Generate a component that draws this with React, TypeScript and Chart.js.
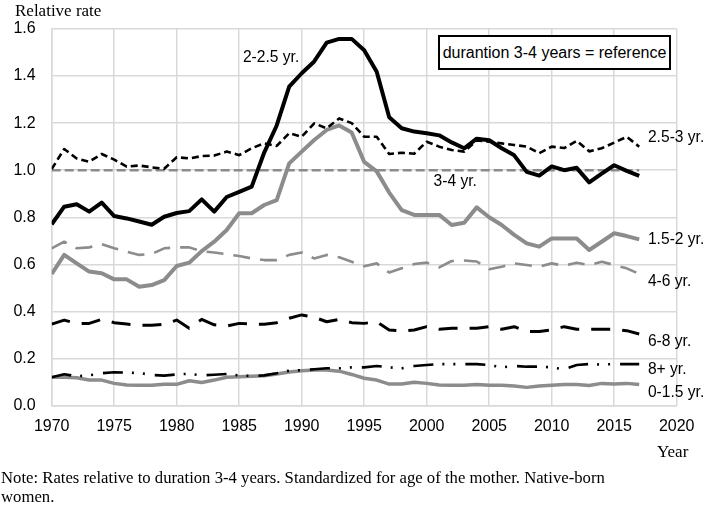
import React, { useEffect, useRef } from "react";
import { Chart, registerables } from "chart.js";

Chart.register(...registerables);

const years = [
  1970, 1971, 1972, 1973, 1974, 1975, 1976, 1977, 1978, 1979,
  1980, 1981, 1982, 1983, 1984, 1985, 1986, 1987, 1988, 1989,
  1990, 1991, 1992, 1993, 1994, 1995, 1996, 1997, 1998, 1999,
  2000, 2001, 2002, 2003, 2004, 2005, 2006, 2007, 2008, 2009,
  2010, 2011, 2012, 2013, 2014, 2015, 2016, 2017,
];

const dur2to25 = [
  0.77, 0.845, 0.855, 0.824, 0.862, 0.805, 0.795, 0.782, 0.768, 0.802,
  0.818, 0.826, 0.876, 0.824, 0.886, 0.908, 0.93, 1.075, 1.19, 1.355,
  1.412, 1.462, 1.542, 1.558, 1.558, 1.51, 1.418, 1.225, 1.178, 1.164,
  1.157, 1.148, 1.118, 1.093, 1.134, 1.127, 1.093, 1.063, 0.993, 0.977,
  1.016, 1.0, 1.01, 0.948, 0.985, 1.021, 0.997, 0.976,
];

const dur25to3 = [
  1.005, 1.09, 1.05, 1.036, 1.069, 1.045, 1.015, 1.02, 1.012, 1.006,
  1.055, 1.05, 1.06, 1.062, 1.079, 1.064, 1.093, 1.114, 1.103, 1.157,
  1.142, 1.199, 1.178, 1.22, 1.2, 1.142, 1.142, 1.069, 1.074, 1.07,
  1.121, 1.1, 1.086, 1.079, 1.126, 1.121, 1.114, 1.107, 1.1, 1.072,
  1.1, 1.094, 1.125, 1.08, 1.093, 1.117, 1.142, 1.1,
];

const dur3to4 = [
  1, 1, 1, 1, 1, 1, 1, 1, 1, 1,
  1, 1, 1, 1, 1, 1, 1, 1, 1, 1,
  1, 1, 1, 1, 1, 1, 1, 1, 1, 1,
  1, 1, 1, 1, 1, 1, 1, 1, 1, 1,
  1, 1, 1, 1, 1, 1, 1, 1,
];

const dur15to2 = [
  0.559, 0.64, 0.604, 0.569, 0.562, 0.536, 0.536, 0.505, 0.512, 0.533,
  0.593, 0.607, 0.656, 0.696, 0.746, 0.817, 0.817, 0.852, 0.873, 1.029,
  1.079, 1.128, 1.171, 1.19, 1.16, 1.035, 0.995, 0.905, 0.83, 0.81,
  0.81, 0.81, 0.767, 0.777, 0.842, 0.8, 0.767, 0.725, 0.689, 0.675,
  0.71, 0.71, 0.71, 0.661, 0.696, 0.732, 0.72, 0.706,
];

const dur4to6 = [
  0.668, 0.696, 0.668, 0.672, 0.686, 0.668, 0.654, 0.64, 0.644, 0.668,
  0.672, 0.672, 0.656, 0.65, 0.643, 0.635, 0.625, 0.618, 0.618, 0.64,
  0.65, 0.625, 0.64, 0.63, 0.611, 0.592, 0.604, 0.565, 0.583, 0.601,
  0.607, 0.587, 0.614, 0.616, 0.612, 0.579, 0.59, 0.604, 0.597, 0.59,
  0.604, 0.594, 0.607, 0.597, 0.611, 0.597, 0.583, 0.559,
];

const dur6to8 = [
  0.346, 0.363, 0.349, 0.349, 0.366, 0.352, 0.346, 0.341, 0.341, 0.345,
  0.363, 0.328, 0.366, 0.343, 0.338, 0.349, 0.346, 0.345, 0.352, 0.371,
  0.385, 0.375, 0.356, 0.366, 0.352, 0.349, 0.356, 0.321, 0.317, 0.321,
  0.335, 0.324, 0.328, 0.328, 0.328, 0.335, 0.324, 0.335, 0.314, 0.314,
  0.321, 0.335, 0.324, 0.324, 0.324, 0.324, 0.318, 0.304,
];

const dur8plus = [
  0.12, 0.133, 0.124, 0.128, 0.137, 0.141, 0.14, 0.138, 0.13, 0.127,
  0.132, 0.135, 0.128, 0.131, 0.134, 0.128, 0.125, 0.128, 0.137, 0.148,
  0.15, 0.154, 0.158, 0.158, 0.162, 0.162, 0.168, 0.162, 0.158, 0.168,
  0.172, 0.176, 0.176, 0.176, 0.176, 0.172, 0.162, 0.168, 0.165, 0.165,
  0.162, 0.154, 0.172, 0.176, 0.174, 0.176, 0.176, 0.176,
];

const dur0to15 = [
  0.12, 0.12, 0.118, 0.108, 0.108, 0.094, 0.087, 0.086, 0.086, 0.09,
  0.09, 0.105, 0.098, 0.108, 0.12, 0.122, 0.124, 0.126, 0.134, 0.142,
  0.148, 0.151, 0.151, 0.146, 0.132, 0.116, 0.108, 0.091, 0.091, 0.099,
  0.094, 0.087, 0.086, 0.086, 0.089, 0.086, 0.086, 0.083, 0.077, 0.083,
  0.086, 0.089, 0.089, 0.085, 0.094, 0.091, 0.094, 0.089,
];

const xMin = 1970;
const xMax = 2020;
const xStep = 5;
const yMin = 0;
const yMax = 1.6;
const yStep = 0.2;

// series label anchors, in data coordinates (year, value)
const labelTexts = ["2-2.5 yr.", "2.5-3 yr.", "3-4 yr.", "1.5-2 yr.", "4-6 yr.", "6-8 yr.", "8+ yr.", "0-1.5 yr."];
const labelYears = [1985.3, 2017.7, 2000.55, 2017.7, 2017.7, 2017.7, 2017.7, 2017.7];
const labelValues = [1.476, 1.137, 0.951, 0.703, 0.526, 0.271, 0.151, 0.054];

const GRAY = "#8c8c8c";
const GRID = "#d9d9d9";
const SANS = "'Liberation Sans', Arial, sans-serif";
const SERIF = "'Liberation Serif', 'Times New Roman', serif";

const pts = (vals: number[]) => years.map((yr, i) => ({ x: yr, y: vals[i] }));

const labelPlugin = {
  id: "seriesLabels",
  afterDatasetsDraw(chart: any) {
    const { ctx, scales } = chart;
    const xs = scales.x;
    const ys = scales.y;
    ctx.save();
    ctx.font = `15.6px ${SANS}`;
    ctx.fillStyle = "#000";
    ctx.textBaseline = "middle";
    ctx.textAlign = "left";
    labelTexts.forEach((t, i) => {
      ctx.fillText(t, xs.getPixelForValue(labelYears[i]), ys.getPixelForValue(labelValues[i]));
    });
    ctx.restore();
  },
};

export default function App() {
  const ref = useRef<HTMLCanvasElement | null>(null);

  useEffect(() => {
    if (!ref.current) return;
    const common = { pointRadius: 0, pointHoverRadius: 0, tension: 0, fill: false, borderJoinStyle: "round" as const };
    const chart = new Chart(ref.current, {
      type: "line",
      data: {
        datasets: [
          { label: "2-2.5 yr.", data: pts(dur2to25), borderColor: "#000", borderWidth: 4, order: 1, ...common },
          { label: "2.5-3 yr.", data: pts(dur25to3), borderColor: "#000", borderWidth: 2.6, borderDash: [7, 4], order: 2, ...common },
          { label: "8+ yr.", data: pts(dur8plus), borderColor: "#000", borderWidth: 2.6, borderDash: [20, 9, 2, 9, 2, 10], order: 3, ...common },
          { label: "6-8 yr.", data: pts(dur6to8), borderColor: "#000", borderWidth: 3, borderDash: [19, 12], order: 4, ...common },
          { label: "1.5-2 yr.", data: pts(dur15to2), borderColor: GRAY, borderWidth: 4, order: 5, ...common },
          { label: "0-1.5 yr.", data: pts(dur0to15), borderColor: GRAY, borderWidth: 3.5, order: 6, ...common },
          { label: "4-6 yr.", data: pts(dur4to6), borderColor: GRAY, borderWidth: 2.6, borderDash: [17, 10], order: 7, ...common },
          { label: "3-4 yr.", data: pts(dur3to4), borderColor: GRAY, borderWidth: 2.6, borderDash: [9, 4], order: 8, ...common },
        ],
      },
      options: {
        responsive: false,
        animation: false,
        events: [],
        layout: { padding: { top: 29, right: 33.3, bottom: 72.5, left: 0 } },
        plugins: { legend: { display: false }, tooltip: { enabled: false }, title: { display: false } },
        scales: {
          x: {
            type: "linear",
            min: xMin,
            max: xMax,
            ticks: {
              stepSize: xStep,
              padding: 11,
              color: "#000",
              font: { family: SANS, size: 16 },
              maxRotation: 0,
              callback: (v: any) => String(v),
            },
            grid: { color: GRID, lineWidth: 1.5, drawTicks: false },
            border: { color: GRID, width: 1.5 },
            afterFit: (s: any) => { s.height = 30; },
          },
          y: {
            type: "linear",
            min: yMin,
            max: yMax,
            ticks: {
              stepSize: yStep,
              padding: 16,
              color: "#000",
              font: { family: SANS, size: 16 },
              callback: (v: any) => Number(v).toFixed(1),
            },
            grid: { color: GRID, lineWidth: 1.5, drawTicks: false },
            border: { color: GRID, width: 1.5 },
            afterFit: (s: any) => { s.width = 51.7; },
          },
        },
      },
      plugins: [labelPlugin],
    });
    return () => chart.destroy();
  }, []);

  return (
    <div style={{ position: "absolute", left: 0, top: 0, width: 710, height: 508, background: "#fff", overflow: "hidden" }}>
      <canvas ref={ref} width={710} height={508} style={{ position: "absolute", left: 0, top: 0, width: 710, height: 508 }} />
      <div style={{ position: "absolute", left: 15, top: 1, fontFamily: SERIF, fontSize: 17, lineHeight: "20px", color: "#000", whiteSpace: "nowrap" }}>
        Relative rate
      </div>
      <div
        style={{
          position: "absolute",
          left: 438,
          top: 35,
          width: 229,
          height: 31,
          border: "2px solid #000",
          background: "#fff",
          fontFamily: SANS,
          fontSize: 16,
          lineHeight: "31px",
          textAlign: "center",
          color: "#000",
          whiteSpace: "nowrap",
        }}
      >
        durantion 3-4 years = reference
      </div>
      <div style={{ position: "absolute", left: 657, top: 442, fontFamily: SERIF, fontSize: 17, lineHeight: "20px", color: "#000", whiteSpace: "nowrap" }}>
        Year
      </div>
      <div style={{ position: "absolute", left: 1, top: 468, fontFamily: SERIF, fontSize: 16.7, lineHeight: "19px", color: "#000", whiteSpace: "nowrap" }}>
        Note: Rates relative to duration 3-4 years. Standardized for age of the mother. Native-born
        <br />
        women.
      </div>
    </div>
  );
}
